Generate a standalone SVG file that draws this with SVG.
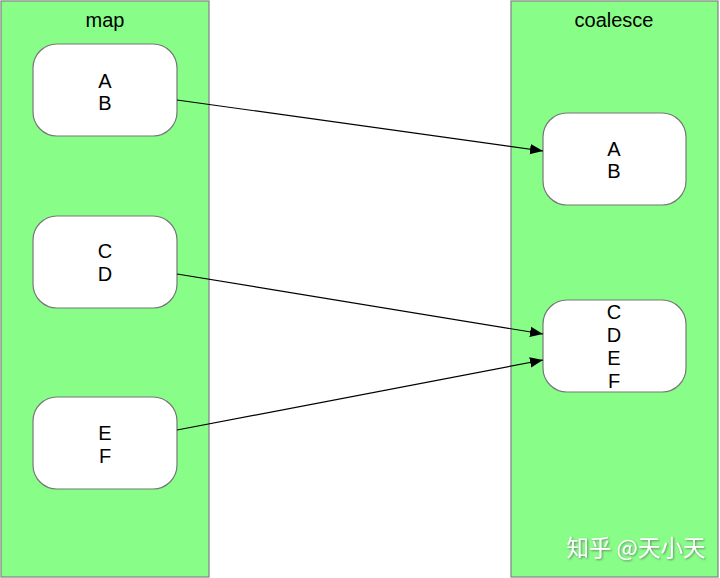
<svg xmlns="http://www.w3.org/2000/svg" width="720" height="578" viewBox="0 0 720 578">
<style>
.lane{fill:#88fe88;stroke:#888;stroke-width:1.3}
.node{fill:#fff;stroke:#777;stroke-width:1.2}
.t{font-family:"Liberation Sans",Arial,sans-serif;font-size:20px;fill:#000;text-anchor:middle}
.edge{stroke:#000;stroke-width:1.2;fill:none;marker-end:url(#arr)}
.wm{font-family:"Noto Sans CJK SC",sans-serif;font-size:22.5px;fill:#fff;text-anchor:middle}
</style>
<defs>
<marker id="arr" viewBox="0 0 10 10" refX="10" refY="5" markerWidth="13" markerHeight="13" markerUnits="userSpaceOnUse" orient="auto">
<path d="M0,1 L10,5 L0,9 z" fill="#000"/>
</marker>
<filter id="sh" x="-10%" y="-30%" width="130%" height="160%"><feDropShadow dx="1" dy="1" stdDeviation="0.8" flood-color="#555" flood-opacity="0.7"/></filter>
</defs>
<g id="lane-map"><rect class="lane" x="1" y="1" width="208" height="576"/><text class="t" x="105" y="27">map</text></g>
<g id="lane-coalesce"><rect class="lane" x="511" y="1" width="207" height="576"/><text class="t" x="614" y="27">coalesce</text></g>
<g id="map-ab"><rect class="node" x="33" y="44" width="144" height="92" rx="24"/><text class="t" x="105" y="88">A</text><text class="t" x="105" y="110">B</text></g>
<g id="map-cd"><rect class="node" x="33" y="216" width="144" height="92" rx="24"/><text class="t" x="105" y="258">C</text><text class="t" x="105" y="281">D</text></g>
<g id="map-ef"><rect class="node" x="33" y="397" width="144" height="92" rx="24"/><text class="t" x="105" y="440">E</text><text class="t" x="105" y="463">F</text></g>
<g id="co-ab"><rect class="node" x="543" y="113" width="143" height="92" rx="24"/><text class="t" x="614" y="156">A</text><text class="t" x="614" y="178">B</text></g>
<g id="co-cdef"><rect class="node" x="543" y="300" width="143" height="92" rx="24"/><text class="t" x="614" y="319">C</text><text class="t" x="614" y="342">D</text><text class="t" x="614" y="365">E</text><text class="t" x="614" y="388">F</text></g>
<g id="connectors">
<line class="edge" x1="177" y1="100" x2="543" y2="151"/>
<line class="edge" x1="177" y1="274" x2="543" y2="334"/>
<line class="edge" x1="177" y1="430" x2="543" y2="360"/>
</g>
<text class="wm" x="636" y="556" filter="url(#sh)">知乎 @天小天</text>
</svg>
